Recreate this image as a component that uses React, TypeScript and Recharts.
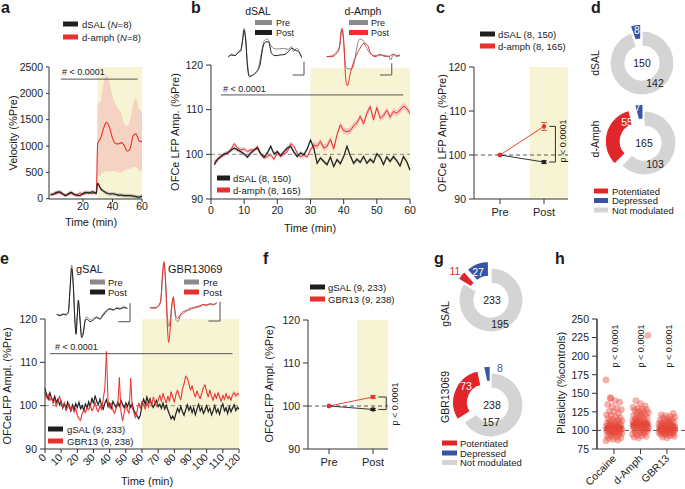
import React from 'react';
import {
  ComposedChart, LineChart, Line, Area, XAxis, YAxis, ReferenceArea, ReferenceLine,
  ErrorBar, PieChart, Pie, Cell,
} from 'recharts';

const FONT = '"Liberation Sans", Arial, Helvetica, sans-serif';
const RED = '#e8302c';
const BLACK = '#1e1e1e';
const YELLOW = '#f6f4d3';
const PINK = '#f5a3ab';
const GRAYBAND = '#8c8c8c';
const D_GRAY = '#d4d4d4';
const D_RED = '#e0262b';
const D_BLUE = '#3a54a5';
const AX = '#333';

// ---------- Panel a: velocity ----------
const velTime = [-2, 0, 2, 4, 6, 8, 10, 12, 14, 16, 18, 20, 22, 24, 26, 28, 29, 30, 32, 34, 36, 38, 40, 42, 44, 46, 48, 50, 52, 54, 56, 58, 60];
const velSal = [80, 90, 120, 130, 100, 60, 90, 120, 80, 70, 60, 100, 120, 110, 130, 120, 100, 290, 190, 140, 110, 90, 95, 85, 70, 70, 60, 60, 60, 50, 40, 30, 50];
const velSalSem = 35;
const velAmph = [70, 80, 100, 120, 90, 70, 80, 100, 90, 60, 110, 80, 110, 120, 100, 110, 90, 1050, 1150, 1340, 1450, 1350, 1150, 1050, 1040, 1065, 1010, 900, 950, 1200, 1230, 1100, 1080];
const velAmphLow = [40, 50, 70, 90, 60, 40, 50, 70, 60, 30, 80, 50, 80, 90, 70, 80, 60, 420, 450, 500, 520, 520, 520, 520, 500, 500, 540, 560, 560, 600, 600, 540, 520];
const velAmphHigh = [100, 110, 130, 150, 120, 100, 110, 130, 120, 90, 140, 110, 140, 150, 130, 140, 120, 1800, 1850, 2200, 2350, 2200, 1950, 1800, 1700, 1620, 1420, 1380, 1500, 1800, 1900, 1700, 1650];
const velTicksX = [10, 20, 30, 40, 50, 60];
const velTicksY = [0, 500, 1000, 1500, 2000, 2500];

// ---------- Panel b: OFCe LFP, 1-min bins (t = 1..60) ----------
const lfpSal = [97.7, 98.9, 99.5, 100.1, 100.3, 100.9, 101.4, 101, 100.6, 100.1, 99.4, 100.3, 101, 101.4, 100.1, 99.4, 100.3, 101.8, 100.1, 100.6, 99.7, 100.6, 101.4, 101.8, 100.5, 99.5, 100.3, 99.9, 101.2, 103.2, 101.4, 98, 99.2, 98.4, 97.7, 99.4, 97.3, 98.8, 97.9, 99.5, 101.8, 99.7, 98, 98.9, 98.2, 99.5, 98, 98.9, 98.2, 100.1, 99.4, 97.7, 99.4, 98.4, 99.5, 98.6, 97.4, 99.5, 98.4, 96.5];
const lfpAmph = [98.4, 98.8, 99.5, 99.9, 100.4, 101, 102.4, 101.4, 101, 101.2, 100.6, 101, 100.9, 101.8, 100.1, 99.2, 99.5, 99.9, 98.9, 100.3, 99.5, 100.1, 100.6, 102.4, 101.8, 100.3, 99.4, 99.9, 99.4, 101, 102.1, 101.8, 102.9, 101.4, 101.8, 103.4, 101.2, 104.4, 106.6, 105.3, 105.1, 105.3, 106.4, 107, 108.5, 106.8, 109.2, 110.7, 107.7, 110.5, 108.1, 108.6, 109.9, 108.3, 109.6, 109.2, 109.9, 110.8, 110.3, 109.2];
const lfpSalSem = 0.45;
const lfpAmphSemPre = 0.45;
const lfpAmphSemPost = 0.75;
const lfpTicksX = [0, 10, 20, 30, 40, 50, 60];
const lfpTicksY = [90, 100, 110, 120];

// ---------- Panel c ----------
const prePost = ['Pre', 'Post'];
const cSal = [100, 98.4];
const cSalErr = [0, 0.3];
const cAmph = [100, 106.5];
const cAmphErr = [0, 0.9];

// ---------- Panels d / g: donuts ----------
const donutCats = ['Potentiated', 'Depressed', 'Not modulated'];
const dSalCounts = { pot: 0, dep: 8, notMod: 142 };
const dAmphCounts = { pot: 55, dep: 7, notMod: 103 };
const gSalCounts = { pot: 11, dep: 27, notMod: 195 };
const gbrCounts = { pot: 73, dep: 8, notMod: 157 };

// ---------- Panel e: 1-min bins (t = 0..120) ----------
const gSal = [104.0, 102.5, 101.5, 103.0, 101.8, 101.0, 102.2, 100.8, 101.5, 100.2, 101.0, 99.5, 100.5, 99.2, 100.8, 99.8, 98.8, 100.2, 99.0, 100.5, 99.6, 100.8, 99.3, 100.0, 98.9, 100.4, 99.5, 100.9, 99.7, 101.8, 100.5, 102.3, 101.0, 100.2, 101.5, 100.0, 99.2, 100.6, 101.4, 99.8, 100.5, 99.4, 101.0, 100.2, 99.6, 100.8, 99.9, 101.2, 100.3, 99.5, 100.6, 99.8, 100.9, 99.6, 100.4, 98.8, 98.2, 97.6, 97.0, 97.8, 100.2, 101.5, 100.3, 102.0, 100.8, 101.6, 100.2, 99.6, 100.5, 101.2, 99.8, 100.3, 99.4, 100.6, 99.2, 100.1, 99.0, 98.0, 97.0, 97.6, 96.8, 98.2, 99.4, 98.5, 99.8, 98.6, 97.8, 99.0, 100.2, 98.9, 99.8, 98.4, 99.5, 97.9, 99.2, 100.3, 98.8, 99.6, 98.2, 99.0, 100.0, 98.6, 99.4, 97.9, 98.8, 100.0, 98.4, 99.2, 98.0, 99.6, 100.4, 98.8, 99.5, 98.2, 99.8, 98.6, 99.4, 100.2, 98.9, 99.6, 99.2];
const gbr = [103.0, 101.8, 102.6, 101.2, 102.0, 100.5, 101.5, 99.8, 101.0, 102.2, 100.6, 99.5, 100.8, 98.9, 99.6, 100.4, 98.8, 99.8, 98.5, 99.4, 97.8, 97.0, 96.6, 98.2, 99.0, 98.4, 99.6, 99.0, 100.2, 98.8, 99.5, 100.8, 99.2, 98.6, 100.0, 99.0, 101.5, 104.0, 112.5, 101.0, 99.4, 100.6, 99.0, 98.2, 99.5, 100.2, 106.5, 98.6, 96.5, 98.4, 100.2, 99.0, 98.2, 106.3, 99.5, 98.4, 97.2, 98.8, 100.6, 99.4, 101.0, 100.2, 99.2, 100.8, 99.6, 101.4, 100.0, 102.0, 100.8, 99.8, 101.2, 102.4, 101.0, 102.8, 101.6, 100.6, 102.2, 101.0, 103.2, 102.0, 100.8, 102.6, 103.6, 102.2, 101.4, 103.8, 105.0, 106.8, 106.4, 105.0, 103.6, 104.6, 103.0, 102.0, 103.4, 102.4, 101.6, 103.0, 104.2, 104.8, 103.2, 102.0, 103.6, 102.2, 101.2, 102.8, 101.6, 103.0, 102.0, 101.0, 102.4, 101.4, 102.8, 101.6, 102.2, 101.2, 102.6, 103.0, 102.2, 102.8, 102.6];
const gSalSem = 0.5;
const gbrSem = 0.55;
const eTicksX = [0, 10, 20, 30, 40, 50, 60, 70, 80, 90, 100, 110, 120];

// ---------- Panel f ----------
const fSal = [100, 99.2];
const fSalErr = [0, 0.25];
const fGbr = [100, 102.1];
const fGbrErr = [0, 0.3];

// ---------- Panel h ----------
const hGroups = ['Cocaine', 'd-Amph', 'GBR13'];
const hCocaine = [168, 144, 140, 138, 135, 132, 130, 128, 126, 125, 123, 121, 120, 118, 117, 116, 115, 114, 113, 112, 111, 110, 110, 109, 108, 108, 107, 106, 106, 105, 105, 104, 104, 103, 103, 102, 102, 101, 101, 100, 100, 99, 99, 98, 98, 97, 97, 96, 95, 95, 94, 93, 92, 91, 90, 89, 88, 87, 86, 143, 106, 103, 101, 99, 104, 102, 108, 97];
const hAmph = [228, 140, 136, 133, 131, 130, 129, 128, 127, 126, 125, 124, 123, 122, 121, 120, 119, 118, 117, 116, 115, 114, 113, 112, 112, 111, 111, 110, 110, 109, 109, 108, 108, 107, 107, 106, 106, 105, 105, 104, 104, 103, 103, 102, 101, 100, 100, 99, 98, 97, 96, 95, 94, 93, 92, 91, 90, 98, 102, 115, 121, 108, 106, 110, 104, 109, 107, 112];
const hGbr = [123, 121, 120, 119, 118, 117, 116, 115, 114, 113, 112, 111, 110, 110, 109, 109, 108, 108, 107, 107, 106, 106, 105, 105, 104, 104, 104, 103, 103, 103, 102, 102, 102, 101, 101, 101, 100, 100, 100, 99, 99, 98, 98, 97, 97, 96, 96, 95, 95, 94, 93, 92, 91, 90, 105, 102, 99, 112, 97, 100, 103, 101, 104, 102, 100, 106];
const hMeans = [104, 108, 103];
const hTicksY = [75, 100, 125, 150, 175, 200, 225, 250];
const hAxisLabels = ['75', '100', '125', '150', '175', '200', '225', '250'];

// ---------- Inset waveforms (sample, amplitude) ----------
const wDSalPre: [number, number][] = [[25, 125], [35, 118], [45, 122], [55, 110], [62, 105], [68, 70], [72, 40], [77, 70], [82, 140], [88, 180], [95, 182], [105, 175], [115, 160], [125, 110], [132, 78], [142, 72], [152, 90], [160, 100], [175, 102], [190, 100], [205, 103], [215, 95], [220, 110], [230, 100], [240, 115], [245, 130]];
const wDSalPost: [number, number][] = [[25, 125], [35, 120], [45, 122], [55, 112], [62, 108], [68, 75], [72, 45], [77, 75], [82, 150], [88, 185], [98, 180], [110, 170], [120, 150], [128, 100], [135, 82], [145, 80], [155, 115], [165, 122], [180, 120], [195, 118], [205, 110], [215, 100], [225, 105], [235, 110], [245, 125]];
const wDAmphPre: [number, number][] = [[320, 125], [335, 122], [350, 110], [358, 95], [365, 45], [370, 70], [375, 140], [380, 160], [390, 162], [398, 160], [405, 130], [412, 90], [420, 72], [428, 75], [440, 100], [450, 115], [465, 122], [480, 118], [495, 125], [505, 122], [512, 135], [520, 118], [530, 125], [540, 122]];
const wDAmphPost: [number, number][] = [[320, 125], [335, 125], [350, 115], [358, 100], [366, 40], [372, 90], [377, 190], [382, 212], [392, 170], [405, 130], [420, 100], [432, 85], [442, 90], [452, 115], [465, 125], [480, 120], [495, 122], [505, 125], [520, 118], [530, 122], [540, 120]];
const wGSalPre: [number, number][] = [[50, 178], [60, 180], [70, 176], [78, 178], [85, 170], [90, 100], [95, 30], [100, 90], [105, 200], [108, 230], [112, 175], [115, 140], [120, 190], [125, 240], [130, 230], [135, 195], [140, 185], [150, 195], [160, 190], [170, 185], [180, 192], [190, 175], [200, 165], [210, 160], [220, 165], [230, 158], [240, 160], [250, 155], [262, 160]];
const wGSalPost: [number, number][] = [[50, 178], [60, 182], [70, 178], [78, 180], [85, 172], [90, 105], [95, 40], [100, 95], [105, 205], [108, 238], [112, 180], [115, 135], [120, 195], [125, 248], [130, 235], [135, 200], [140, 192], [150, 200], [160, 195], [170, 188], [180, 192], [190, 180], [200, 168], [210, 162], [220, 165], [230, 160], [240, 162], [250, 158], [262, 160]];
const wGbrPre: [number, number][] = [[330, 158], [345, 160], [355, 155], [362, 140], [368, 60], [372, 25], [377, 80], [382, 180], [386, 215], [390, 200], [395, 150], [400, 130], [404, 165], [408, 195], [414, 200], [420, 185], [430, 175], [440, 168], [450, 165], [460, 160], [470, 158], [480, 155], [490, 150], [500, 152], [510, 148], [520, 150], [530, 145]];
const wGbrPost: [number, number][] = [[330, 158], [345, 158], [355, 152], [362, 138], [368, 50], [372, 20], [377, 90], [382, 210], [386, 262], [390, 230], [395, 160], [400, 125], [404, 160], [408, 185], [414, 190], [420, 180], [430, 170], [440, 166], [450, 160], [460, 158], [470, 155], [480, 152], [490, 148], [500, 150], [510, 146], [520, 148], [530, 143]];

// ---------- helpers ----------
type Rect = { x1: number; y1: number; x2: number; y2: number };
function place(r: Rect, yW: number, xH: number, pad = 8) {
  return {
    left: r.x1 - yW,
    top: r.y1 - pad,
    width: r.x2 - r.x1 + yW + pad,
    height: r.y2 - r.y1 + pad + xH,
    margin: { top: pad, right: pad, bottom: 0, left: 0 },
  };
}
const tickStyle = { fill: '#222', fontSize: 10.5, fontFamily: FONT };
const axProps = { stroke: AX, tick: tickStyle, axisLine: { stroke: AX }, tickLine: { stroke: AX } };

const rotTick = (dx: number, dy: number, labels?: string[]) => (props: any) => {
  const { x, y, payload } = props;
  const lab = labels ? labels[payload.value] : String(payload.value);
  const ax = x + dx;
  const ay = y + dy;
  return (
    <text x={ax} y={ay} transform={`rotate(-45 ${ax} ${ay})`} textAnchor="end" fontSize={10.5} fill="#222" fontFamily={FONT}>
      {lab}
    </text>
  );
};

const toPts = (w: [number, number][]) => w.map(([x, y]) => ({ x, y: -y }));

// ---------- rows ----------
const aRows = velTime.map((t, i) => ({
  t,
  sal: velSal[i],
  salBand: [velSal[i] - velSalSem, velSal[i] + velSalSem],
  amph: velAmph[i],
  amphBand: [velAmphLow[i], velAmphHigh[i]],
}));
const bRows = lfpSal.map((v, i) => {
  const t = i + 1;
  const s = t > 30 ? lfpAmphSemPost : lfpAmphSemPre;
  return { t, sal: v, salBand: [v - lfpSalSem, v + lfpSalSem], amph: lfpAmph[i], amphBand: [lfpAmph[i] - s, lfpAmph[i] + s] };
});
const cRows = prePost.map((_, i) => ({ x: i, sal: cSal[i], salErr: cSalErr[i], amph: cAmph[i], amphErr: cAmphErr[i] }));
const eRows = gSal.map((v, i) => ({ t: i, sal: v, salBand: [v - gSalSem, v + gSalSem], gbr: gbr[i], gbrBand: [gbr[i] - gbrSem, gbr[i] + gbrSem] }));
const fRows = prePost.map((_, i) => ({ x: i, sal: fSal[i], salErr: fSalErr[i], gbr: fGbr[i], gbrErr: fGbrErr[i] }));
const jit = (i: number) => ((((i * 37) % 29) / 28) - 0.5) * 0.6;
const hRows = [hCocaine, hAmph, hGbr].flatMap((arr, g) => arr.map((y, i) => ({ x: g + jit(i + g * 7), v: y })));

// ---------- components ----------
function Abs({ left, top, children }: any) {
  return <div style={{ position: 'absolute', left, top }}>{children}</div>;
}

function PanelA() {
  const p = place({ x1: 49, y1: 67, x2: 142, y2: 199 }, 40, 24);
  return (
    <Abs left={p.left} top={p.top}>
      <ComposedChart width={p.width} height={p.height} data={aRows} margin={p.margin}>
        <ReferenceArea x1={30} x2={60} y1={0} y2={2500} fill={YELLOW} fillOpacity={1} stroke="none" />
        <XAxis dataKey="t" type="number" domain={[-3, 60]} ticks={velTicksX} height={24} tickSize={3} tickMargin={1} {...axProps} />
        <YAxis type="number" domain={[0, 2500]} ticks={velTicksY} width={40} tickSize={3} tickMargin={3} {...axProps} />
        <Area dataKey="salBand" type="monotone" stroke="none" fill={GRAYBAND} fillOpacity={0.45} isAnimationActive={false} />
        <Area dataKey="amphBand" type="monotone" stroke="none" fill={PINK} fillOpacity={0.4} isAnimationActive={false} />
        <Line dataKey="amph" type="monotone" stroke={RED} strokeWidth={1.1} dot={false} activeDot={false} isAnimationActive={false} />
        <Line dataKey="sal" type="monotone" stroke={BLACK} strokeWidth={1.2} dot={false} activeDot={false} isAnimationActive={false} />
        <ReferenceLine segment={[{ x: 5, y: 2270 }, { x: 57, y: 2270 }]} stroke="#555" strokeWidth={1} />
      </ComposedChart>
    </Abs>
  );
}

function PanelB() {
  const p = place({ x1: 211, y1: 65, x2: 410, y2: 199 }, 40, 30);
  return (
    <Abs left={p.left} top={p.top}>
      <ComposedChart width={p.width} height={p.height} data={bRows} margin={p.margin}>
        <ReferenceArea x1={30} x2={60} y1={90} y2={119.3} fill={YELLOW} fillOpacity={1} stroke="none" />
        <XAxis dataKey="t" type="number" domain={[0, 60]} ticks={lfpTicksX} height={30} tickSize={5} tickMargin={3} {...axProps} />
        <YAxis type="number" domain={[90, 120]} ticks={lfpTicksY} width={40} tickSize={5} tickMargin={3} {...axProps} />
        <ReferenceLine y={100} stroke="#888" strokeDasharray="4 3" />
        <Area dataKey="salBand" type="linear" stroke="none" fill={GRAYBAND} fillOpacity={0.45} isAnimationActive={false} />
        <Area dataKey="amphBand" type="linear" stroke="none" fill={PINK} fillOpacity={0.55} isAnimationActive={false} />
        <Line dataKey="amph" type="linear" stroke={RED} strokeWidth={1} dot={false} activeDot={false} isAnimationActive={false} />
        <Line dataKey="sal" type="linear" stroke={BLACK} strokeWidth={1.2} dot={false} activeDot={false} isAnimationActive={false} />
        <ReferenceLine segment={[{ x: 3, y: 113.3 }, { x: 58, y: 113.3 }]} stroke="#555" strokeWidth={1} />
      </ComposedChart>
    </Abs>
  );
}

function PrePostPanel({ rect, rows, keyA, errA, keyB, errB, domainX, shadeX1, bracketX }: any) {
  const p = place(rect, 40, 26);
  const top = rows[1][keyB];
  const bot = rows[1][keyA];
  return (
    <Abs left={p.left} top={p.top}>
      <ComposedChart width={p.width} height={p.height} data={rows} margin={p.margin}>
        <ReferenceArea x1={shadeX1} x2={domainX[1]} y1={90} y2={120} fill={YELLOW} fillOpacity={1} stroke="none" />
        <XAxis dataKey="x" type="number" domain={domainX} ticks={[0, 1]} tickFormatter={(v: number) => prePost[v]} height={26} tickSize={5} tickMargin={4} {...axProps} tick={{ ...tickStyle, fontSize: 11 }} />
        <YAxis type="number" domain={[90, 120]} ticks={lfpTicksY} width={40} tickSize={5} tickMargin={3} {...axProps} />
        <ReferenceLine y={100} stroke="#555" strokeDasharray="4 3" />
        <Line dataKey={keyA} type="linear" stroke={BLACK} strokeWidth={0.9} dot={{ r: 1.8, fill: BLACK, stroke: BLACK }} activeDot={false} isAnimationActive={false}>
          <ErrorBar dataKey={errA} width={3} stroke={BLACK} strokeWidth={0.8} direction="y" />
        </Line>
        <Line dataKey={keyB} type="linear" stroke={RED} strokeWidth={0.9} dot={{ r: 1.8, fill: RED, stroke: RED }} activeDot={false} isAnimationActive={false}>
          <ErrorBar dataKey={errB} width={3} stroke={RED} strokeWidth={0.8} direction="y" />
        </Line>
        <ReferenceLine segment={[{ x: bracketX[0], y: top }, { x: bracketX[1], y: top }]} stroke="#333" />
        <ReferenceLine segment={[{ x: bracketX[0], y: bot }, { x: bracketX[1], y: bot }]} stroke="#333" />
        <ReferenceLine segment={[{ x: bracketX[1], y: bot }, { x: bracketX[1], y: top }]} stroke="#333" />
      </ComposedChart>
    </Abs>
  );
}

function PanelE() {
  const p = place({ x1: 45, y1: 319, x2: 239, y2: 449 }, 40, 32);
  return (
    <Abs left={p.left} top={p.top}>
      <ComposedChart width={p.width} height={p.height} data={eRows} margin={p.margin}>
        <ReferenceArea x1={60} x2={120} y1={90} y2={120} fill={YELLOW} fillOpacity={1} stroke="none" />
        <XAxis dataKey="t" type="number" domain={[0, 120]} ticks={eTicksX} height={32} tickSize={4} tickMargin={2} {...axProps} tick={rotTick(2, 3)} interval={0} />
        <YAxis type="number" domain={[90, 120]} ticks={lfpTicksY} width={40} tickSize={5} tickMargin={3} {...axProps} />
        <ReferenceLine y={100} stroke="#888" strokeDasharray="4 3" />
        <Area dataKey="salBand" type="linear" stroke="none" fill={GRAYBAND} fillOpacity={0.45} isAnimationActive={false} />
        <Area dataKey="gbrBand" type="linear" stroke="none" fill={PINK} fillOpacity={0.55} isAnimationActive={false} />
        <Line dataKey="sal" type="linear" stroke={BLACK} strokeWidth={1.1} dot={false} activeDot={false} isAnimationActive={false} />
        <Line dataKey="gbr" type="linear" stroke={RED} strokeWidth={1} dot={false} activeDot={false} isAnimationActive={false} />
        <ReferenceLine segment={[{ x: 3, y: 112 }, { x: 116, y: 112 }]} stroke="#555" strokeWidth={1} />
      </ComposedChart>
    </Abs>
  );
}

const hDot = (s: any) => (s.cx == null || s.cy == null ? <g key={s.index} /> : <circle key={s.index} cx={s.cx} cy={s.cy} r={3.4} fill="#e8473a" fillOpacity={0.42} />);

const H_XMIN = -0.64;
const H_XMAX = 2.68;

function PanelH() {
  const p = place({ x1: 597, y1: 319, x2: 685, y2: 449 }, 40, 38);
  return (
    <Abs left={p.left} top={p.top}>
      <ComposedChart width={p.width} height={p.height} data={hRows} margin={p.margin}>
        <XAxis dataKey="x" type="number" domain={[H_XMIN, H_XMAX]} ticks={[0, 1, 2]} height={38} tickSize={5} tickMargin={2} {...axProps} tick={rotTick(3, 3, hGroups)} interval={0} />
        <YAxis type="number" domain={[75, 250]} ticks={[...hTicksY]} width={40} tickSize={5} tickMargin={3} {...axProps} tick={false} tickLine={false} />
        <ReferenceLine x={H_XMIN} stroke={AX} />
        <ReferenceLine y={100} stroke="#555" strokeDasharray="4 3" />
        <Line dataKey="v" stroke="none" dot={hDot} activeDot={false} isAnimationActive={false} />
        {hMeans.map((m, i) => (
          <ReferenceLine key={'m' + i} segment={[{ x: i - 0.34, y: m }, { x: i + 0.34, y: m }]} stroke="#111" strokeWidth={2.4} />
        ))}
      </ComposedChart>
    </Abs>
  );
}

// Separate small svg holding the panel-h y-axis tick marks and labels.
function HYAxisLabels() {
  const left = 560;
  const top = 305;
  const axisX = 597 - left;
  const yTop = 319 - top;
  const yBot = 449 - top;
  const n = hAxisLabels.length;
  return (
    <svg width={40} height={160} style={{ position: 'absolute', left, top, overflow: 'visible' }}>
      {hAxisLabels.map((lab, i) => {
        const y = yBot - (i / (n - 1)) * (yBot - yTop);
        return (
          <g key={'hl' + i}>
            <line x1={axisX - 5} x2={axisX} y1={y} y2={y} stroke={AX} strokeWidth={1} />
            <text x={axisX - 8} y={y + 3.8} fontFamily={FONT} fontSize={10.5} fill="#222" textAnchor="end">
              {lab}
            </text>
          </g>
        );
      })}
    </svg>
  );
}

function Inset({ left, top, width, height, yMin, traces, bars }: any) {
  return (
    <Abs left={left} top={top}>
      <LineChart width={width} height={height} margin={{ top: 0, right: 0, bottom: 0, left: 0 }}>
        <XAxis dataKey="x" type="number" domain={[0, 600]} hide allowDataOverflow />
        <YAxis dataKey="y" type="number" domain={[yMin, 0]} hide allowDataOverflow />
        {traces.map((tr: any, i: number) => (
          <Line key={i} data={toPts(tr.pts)} dataKey="y" type="monotone" stroke={tr.color} strokeWidth={1} dot={false} activeDot={false} isAnimationActive={false} />
        ))}
        {bars.map((b: any, i: number) => (
          <ReferenceLine key={'b' + i} segment={[{ x: b[0], y: -b[1] }, { x: b[2], y: -b[3] }]} stroke="#777" strokeWidth={1.3} />
        ))}
      </LineChart>
    </Abs>
  );
}

const EXPLODE = 7;
function Donut({ cx, cy, counts }: any) {
  const items = [
    { value: counts.notMod, color: D_GRAY, ex: 0 },
    { value: counts.pot, color: D_RED, ex: EXPLODE },
    { value: counts.dep, color: D_BLUE, ex: EXPLODE },
  ];
  const total = items.reduce((s, it) => s + it.value, 0);
  let a = 90;
  const mids = items.map((it) => {
    const span = (it.value / total) * 360;
    const m = a - span / 2;
    a -= span;
    return m;
  });
  const size = 100;
  const c = size / 2;
  return (
    <Abs left={cx - c} top={cy - c}>
      <PieChart width={size} height={size} margin={{ top: 0, right: 0, bottom: 0, left: 0 }}>
        {items.map((it, k) =>
          it.value > 0 ? (
            <Pie
              key={k}
              data={items}
              dataKey="value"
              cx={c + it.ex * Math.cos((mids[k] * Math.PI) / 180)}
              cy={c - it.ex * Math.sin((mids[k] * Math.PI) / 180)}
              innerRadius={17}
              outerRadius={32}
              startAngle={90}
              endAngle={-270}
              isAnimationActive={false}
              label={false}
              labelLine={false}
            >
              {items.map((jt, j) => (
                <Cell key={j} fill={j === k ? jt.color : 'transparent'} stroke={j === k ? '#fff' : 'none'} strokeWidth={1.2} />
              ))}
            </Pie>
          ) : null,
        )}
      </PieChart>
    </Abs>
  );
}

function Sw({ x, y, color, w = 15 }: any) {
  return <rect x={x} y={y - 2.5} width={w} height={5} fill={color} />;
}

function Overlay() {
  const T = (props: any) => <text fontFamily={FONT} fill="#1a1a1a" {...props} />;
  const V = ({ x, y, size = 11, children, fill }: any) => (
    <text fontFamily={FONT} fill={fill || '#1a1a1a'} fontSize={size} textAnchor="middle" dominantBaseline="central" transform={`translate(${x},${y}) rotate(-90)`}>
      {children}
    </text>
  );
  const C = ({ x, y, size = 10.5, fill = '#1a1a1a', children }: any) => (
    <text x={x} y={y} fontFamily={FONT} fill={fill} fontSize={size} textAnchor="middle" dominantBaseline="central">
      {children}
    </text>
  );
  return (
    <svg width={685} height={489} style={{ position: 'absolute', left: 0, top: 0, pointerEvents: 'none' }}>
      {/* panel letters */}
      <T x={1} y={13} fontSize={16} fontWeight="bold">a</T>
      <T x={191} y={13} fontSize={16} fontWeight="bold">b</T>
      <T x={436} y={13} fontSize={16} fontWeight="bold">c</T>
      <T x={591} y={13} fontSize={16} fontWeight="bold">d</T>
      <T x={0} y={264} fontSize={16} fontWeight="bold">e</T>
      <T x={263} y={264} fontSize={16} fontWeight="bold">f</T>
      <T x={434} y={264} fontSize={16} fontWeight="bold">g</T>
      <T x={555} y={264} fontSize={16} fontWeight="bold">h</T>

      {/* a */}
      <Sw x={63} y={24} color={BLACK} />
      <T x={82} y={27.5} fontSize={9.5}>dSAL (<tspan fontStyle="italic">N</tspan>=8)</T>
      <Sw x={63} y={37} color={RED} />
      <T x={82} y={40.5} fontSize={9.5}>d-amph (<tspan fontStyle="italic">N</tspan>=8)</T>
      <T x={62} y={75} fontSize={9}># &lt; 0.0001</T>
      <V x={13} y={133}>Velocity (%Pre)</V>
      <C x={91} y={222} size={11}>Time (min)</C>

      {/* b */}
      <C x={258} y={11} size={10.5}>dSAL</C>
      <Sw x={255} y={22.5} color="#8a8a8a" w={17} />
      <T x={276} y={26} fontSize={9}>Pre</T>
      <Sw x={255} y={32.5} color={BLACK} w={17} />
      <T x={276} y={36} fontSize={9}>Post</T>
      <C x={363} y={11} size={10.5}>d-Amph</C>
      <Sw x={349} y={22.5} color="#8a8a8a" w={19} />
      <T x={371} y={26} fontSize={9}>Pre</T>
      <Sw x={349} y={32.5} color={RED} w={19} />
      <T x={371} y={36} fontSize={9}>Post</T>
      <T x={223} y={92} fontSize={9}># &lt; 0.0001</T>
      <Sw x={217} y={178} color={BLACK} w={13} />
      <T x={233} y={181.5} fontSize={9.5}>dSAL (8, 150)</T>
      <Sw x={217} y={190} color={RED} w={13} />
      <T x={233} y={193.5} fontSize={9.5}>d-amph (8, 165)</T>
      <V x={175} y={132}>OFCe LFP Amp. (%Pre)</V>
      <C x={310} y={228} size={11}>Time (min)</C>

      {/* c */}
      <Sw x={480} y={34} color={BLACK} />
      <T x={498} y={37.5} fontSize={9.5}>dSAL (8, 150)</T>
      <Sw x={480} y={46} color={RED} />
      <T x={498} y={49.5} fontSize={9.5}>d-amph (8, 165)</T>
      <V x={442} y={133}>OFCe LFP Amp. (%Pre)</V>
      <V x={563} y={141} size={9}>p &lt; 0.0001</V>

      {/* d */}
      <V x={595} y={63} size={10.5}>dSAL</V>
      <V x={595} y={139} size={10.5}>d-Amph</V>
      <C x={642} y={63}>{dSalCounts.pot + dSalCounts.dep + dSalCounts.notMod}</C>
      <C x={655} y={83}>{dSalCounts.notMod}</C>
      <C x={637} y={30} fill="#fff">{dSalCounts.dep}</C>
      <C x={644} y={143}>{dAmphCounts.pot + dAmphCounts.dep + dAmphCounts.notMod}</C>
      <C x={655} y={164}>{dAmphCounts.notMod}</C>
      <C x={627} y={122} fill="#fff">{dAmphCounts.pot}</C>
      <C x={638} y={107} fill="#fff">{dAmphCounts.dep}</C>
      <Sw x={594} y={191} color={D_RED} w={14} />
      <T x={612} y={194.5} fontSize={9.5}>{donutCats[0]}</T>
      <Sw x={594} y={200.5} color={D_BLUE} w={14} />
      <T x={612} y={204} fontSize={9.5}>{donutCats[1]}</T>
      <Sw x={594} y={210} color={D_GRAY} w={14} />
      <T x={612} y={213.5} fontSize={9.5}>{donutCats[2]}</T>

      {/* e */}
      <T x={76} y={273} fontSize={11}>gSAL</T>
      <Sw x={90} y={282} color="#8a8a8a" />
      <T x={108} y={285.5} fontSize={9.5}>Pre</T>
      <Sw x={90} y={292} color={BLACK} />
      <T x={108} y={295.5} fontSize={9.5}>Post</T>
      <T x={168} y={273} fontSize={11}>GBR13069</T>
      <Sw x={184} y={282} color="#8a8a8a" />
      <T x={203} y={285.5} fontSize={9.5}>Pre</T>
      <Sw x={184} y={292} color={RED} />
      <T x={203} y={295.5} fontSize={9.5}>Post</T>
      <T x={55} y={350} fontSize={9}># &lt; 0.0001</T>
      <Sw x={48} y={429} color={BLACK} />
      <T x={67} y={432.5} fontSize={9.5}>gSAL (9, 233)</T>
      <Sw x={48} y={441} color={RED} />
      <T x={67} y={444.5} fontSize={9.5}>GBR13 (9, 238)</T>
      <V x={7} y={386}>OFCeLFP Ampl. (%Pre)</V>
      <C x={147} y={481} size={11}>Time (min)</C>

      {/* f */}
      <Sw x={310} y={287} color={BLACK} />
      <T x={328} y={290.5} fontSize={9.5}>gSAL (9, 233)</T>
      <Sw x={310} y={299} color={RED} />
      <T x={328} y={302.5} fontSize={9.5}>GBR13 (9, 238)</T>
      <V x={269} y={384}>OFCeLFP Ampl. (%Pre)</V>
      <V x={395} y={404} size={9}>p &lt; 0.0001</V>

      {/* g */}
      <V x={445} y={314} size={10.5}>gSAL</V>
      <V x={445} y={397} size={10.5}>GBR13069</V>
      <C x={492} y={300}>{gSalCounts.pot + gSalCounts.dep + gSalCounts.notMod}</C>
      <C x={500} y={324}>{gSalCounts.notMod}</C>
      <C x={478} y={272} fill="#fff">{gSalCounts.dep}</C>
      <C x={455} y={271} fill={D_RED}>{gSalCounts.pot}</C>
      <C x={492} y={405}>{gbrCounts.pot + gbrCounts.dep + gbrCounts.notMod}</C>
      <C x={491} y={422}>{gbrCounts.notMod}</C>
      <C x={466} y={386} fill="#fff">{gbrCounts.pot}</C>
      <C x={500} y={368} fill={D_BLUE}>{gbrCounts.dep}</C>
      <Sw x={442} y={443} color={D_RED} />
      <T x={460} y={446.5} fontSize={9.5}>{donutCats[0]}</T>
      <Sw x={442} y={453} color={D_BLUE} />
      <T x={460} y={456.5} fontSize={9.5}>{donutCats[1]}</T>
      <Sw x={442} y={462.5} color={D_GRAY} />
      <T x={460} y={466} fontSize={9.5}>{donutCats[2]}</T>

      {/* h */}
      <V x={561} y={383}>Plasticity (%controls)</V>
      <V x={615} y={346} size={9}>p &lt; 0.0001</V>
      <V x={641} y={346} size={9}>p &lt; 0.0001</V>
      <V x={669} y={346} size={9}>p &lt; 0.0001</V>
    </svg>
  );
}

export default function App() {
  return (
    <div style={{ position: 'absolute', left: 0, top: 0, width: 685, height: 489, background: '#fff', fontFamily: FONT, overflow: 'hidden' }}>
      <PanelA />
      <PanelB />
      <Inset
        left={220} top={15} width={200} height={80} yMin={-240}
        traces={[
          { pts: wDSalPre, color: '#8a8a8a' },
          { pts: wDSalPost, color: BLACK },
          { pts: wDAmphPre, color: '#8a8a8a' },
          { pts: wDAmphPost, color: RED },
        ]}
        bars={[[252, 140, 252, 180], [218, 180, 252, 180], [515, 145, 515, 180], [480, 180, 515, 180]]}
      />
      <PrePostPanel rect={{ x1: 474, y1: 67, x2: 568, y2: 199 }} rows={cRows} keyA="sal" errA="salErr" keyB="amph" errB="amphErr" domainX={[-0.59, 1.545]} shadeX1={0.68} bracketX={[1.12, 1.26]} />
      <Donut cx={642} cy={63} counts={dSalCounts} />
      <Donut cx={644} cy={143} counts={dAmphCounts} />
      <PanelE />
      <Inset
        left={40} top={255} width={200} height={100} yMin={-300}
        traces={[
          { pts: wGSalPre, color: '#8a8a8a' },
          { pts: wGSalPost, color: BLACK },
          { pts: wGbrPre, color: '#8a8a8a' },
          { pts: wGbrPost, color: RED },
        ]}
        bars={[[270, 145, 270, 200], [235, 200, 270, 200], [540, 140, 540, 198], [505, 198, 540, 198]]}
      />
      <PrePostPanel rect={{ x1: 308, y1: 320, x2: 388, y2: 449 }} rows={fRows} keyA="sal" errA="salErr" keyB="gbr" errB="gbrErr" domainX={[-0.477, 1.34]} shadeX1={0.636} bracketX={[1.12, 1.3]} />
      <Donut cx={491} cy={300} counts={gSalCounts} />
      <Donut cx={491} cy={405} counts={gbrCounts} />
      <PanelH />
      <Overlay />
      <HYAxisLabels />
    </div>
  );
}
